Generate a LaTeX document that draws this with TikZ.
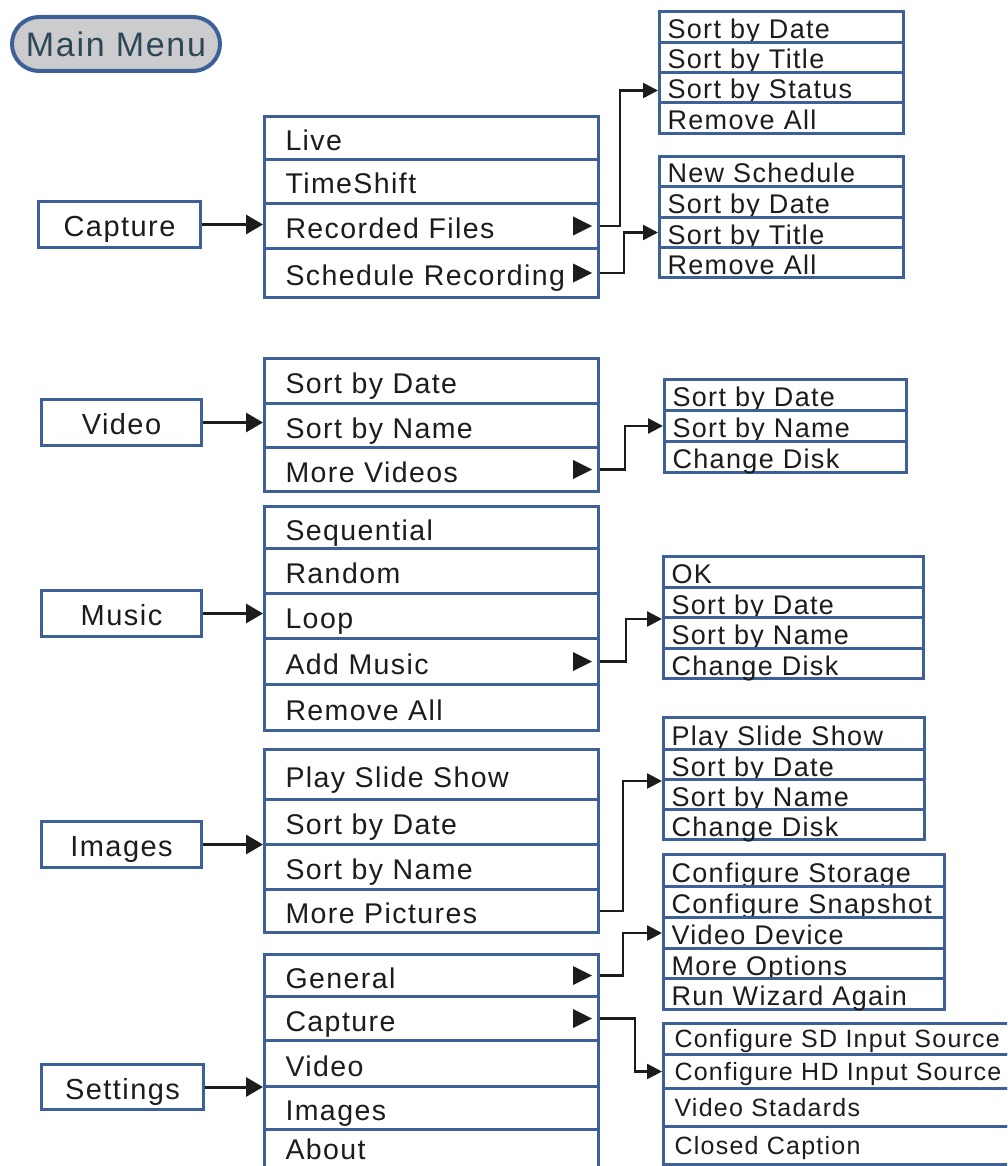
\documentclass[tikz,border=0pt]{standalone}
\usepackage{fontspec}
\setmainfont{Liberation Sans}
\newfontfamily\menufont[LetterSpace=5]{Liberation Sans}
\usetikzlibrary{arrows.meta,calc}
\definecolor{bord}{RGB}{62,96,152}
\definecolor{ink}{RGB}{28,28,28}
\definecolor{mmfill}{RGB}{204,204,206}
\definecolor{mmtext}{RGB}{44,72,86}
\newcommand\menutri[1]{\fill[ink] ([xshift=-27pt,yshift=9.5pt]#1.east) -- ++(0,19) -- ++(19,-9.5) -- cycle;}
\tikzset{
  base/.style={draw=bord, line width=3pt, fill=white, text=ink, inner ysep=0pt, anchor=north west, text depth=0pt},
  mrow/.style={base, font=\menufont\fontsize{28.5}{30}\selectfont, inner xsep=21pt, text width=292pt, align=left, minimum height=#1, text height=25pt},
  srow/.style={base, font=\menufont\fontsize{27}{29}\selectfont, inner xsep=8pt, align=left, text height=23pt},
  crow/.style={base, font=\menufont\fontsize{25}{27}\selectfont, inner xsep=11pt, align=left, text height=17pt, text width=338pt},
  lbox/.style={base, font=\menufont\fontsize{29}{31}\selectfont, inner xsep=0pt, minimum height=46pt, text height=24pt},
  mainarr/.style={draw=ink, line width=3pt, -{Triangle[length=17pt,width=19pt]}},
  conn/.style={draw=ink, line width=2.5pt, -{Triangle[length=15pt,width=15pt]}},
}
\begin{document}
\begin{tikzpicture}[x=1pt,y=-1pt]
\useasboundingbox (0,0) rectangle (1007,1166);
\clip (0,0) rectangle (1007,1166);

% Main menu
\node[draw=bord, line width=4pt, fill=mmfill, rounded corners=27pt, minimum width=208pt, minimum height=54pt, anchor=north west, inner sep=0pt, text=mmtext, font=\menufont\fontsize{34}{36}\selectfont, text height=26pt, text depth=0pt] (mm) at (10,15) {Main Menu};

% Left boxes
\node[lbox, minimum width=162pt] (capt) at (37,200) {Capture};
\node[lbox, minimum width=160pt] (vid) at (40,398) {Video};
\node[lbox, minimum width=160pt] (mus) at (40,589) {Music};
\node[lbox, minimum width=160pt] (img) at (40,820) {Images};
\node[lbox, minimum width=162pt, minimum height=45pt] (set) at (40,1063) {Settings};

% Capture menu
\node[mrow=43pt] (c1) at (263,115) {Live};
\node[mrow=44pt] (c2) at (263,158) {TimeShift};
\node[mrow=45pt] (c3) at (263,202) {Recorded Files};
\node[mrow=49pt] (c4) at (263,247) {Schedule Recording};
\menutri{c3}\menutri{c4}

% Recorded files submenu
\node[srow, text width=228pt, minimum height=31pt] (r1) at (658,10) {Sort by Date};
\node[srow, text width=228pt, minimum height=30pt] (r2) at (658,41) {Sort by Title};
\node[srow, text width=228pt, minimum height=30pt] (r3) at (658,71) {Sort by Status};
\node[srow, text width=228pt, minimum height=31pt] (r4) at (658,101) {Remove All};

% Schedule submenu
\node[srow, text width=228pt, minimum height=30pt] (s1) at (658,155) {New Schedule};
\node[srow, text width=228pt, minimum height=31pt] (s2) at (658,185) {Sort by Date};
\node[srow, text width=228pt, minimum height=30pt] (s3) at (658,216) {Sort by Title};
\node[srow, text width=228pt, minimum height=30pt] (s4) at (658,246) {Remove All};

% Video menu
\node[mrow=45pt] (v1) at (263,357) {Sort by Date};
\node[mrow=44pt] (v2) at (263,402) {Sort by Name};
\node[mrow=44pt] (v3) at (263,446) {More Videos};
\menutri{v3}

% Video submenu
\node[srow, text width=226pt, minimum height=31pt] (vs1) at (663,378) {Sort by Date};
\node[srow, text width=226pt, minimum height=31pt] (vs2) at (663,409) {Sort by Name};
\node[srow, text width=226pt, minimum height=31pt] (vs3) at (663,440) {Change Disk};

% Music menu
\node[mrow=42pt] (m1) at (263,505) {Sequential};
\node[mrow=45pt] (m2) at (263,547) {Random};
\node[mrow=45pt] (m3) at (263,592) {Loop};
\node[mrow=46pt] (m4) at (263,637) {Add Music};
\node[mrow=46pt] (m5) at (263,683) {Remove All};
\menutri{m4}

% Music submenu
\node[srow, text width=244pt, minimum height=31pt] (ms1) at (662,555) {OK};
\node[srow, text width=244pt, minimum height=30pt] (ms2) at (662,586) {Sort by Date};
\node[srow, text width=244pt, minimum height=31pt] (ms3) at (662,616) {Sort by Name};
\node[srow, text width=244pt, minimum height=30pt] (ms4) at (662,647) {Change Disk};

% Images menu
\node[mrow=50pt] (i1) at (263,748) {Play Slide Show};
\node[mrow=45pt] (i2) at (263,798) {Sort by Date};
\node[mrow=45pt] (i3) at (263,843) {Sort by Name};
\node[mrow=43pt] (i4) at (263,888) {More Pictures};

% Images submenu
\node[srow, text width=245pt, minimum height=32pt] (is1) at (662,716) {Play Slide Show};
\node[srow, text width=245pt, minimum height=30pt] (is2) at (662,748) {Sort by Date};
\node[srow, text width=245pt, minimum height=30pt] (is3) at (662,778) {Sort by Name};
\node[srow, text width=245pt, minimum height=30pt] (is4) at (662,808) {Change Disk};

% Settings menu
\node[mrow=42pt] (g1) at (263,953) {General};
\node[mrow=44pt] (g2) at (263,995) {Capture};
\node[mrow=46pt] (g3) at (263,1039) {Video};
\node[mrow=43pt] (g4) at (263,1085) {Images};
\node[mrow=41pt, text height=19pt] (g5) at (263,1128) {About};
\menutri{g1}\menutri{g2}

% Settings general submenu
\node[srow, text width=265pt, minimum height=32pt] (gs1) at (662,853) {Configure Storage};
\node[srow, text width=265pt, minimum height=31pt] (gs2) at (662,885) {Configure Snapshot};
\node[srow, text width=265pt, minimum height=31pt] (gs3) at (662,916) {Video Device};
\node[srow, text width=265pt, minimum height=30pt] (gs4) at (662,947) {More Options};
\node[srow, text width=265pt, minimum height=31pt] (gs5) at (662,977) {Run Wizard Again};

% Settings capture submenu
\node[crow, minimum height=31pt] (cs1) at (662,1022) {Configure SD Input Source};
\node[crow, minimum height=34pt] (cs2) at (662,1053) {Configure HD Input Source};
\node[crow, minimum height=38pt] (cs3) at (662,1087) {Video Stadards};
\node[crow, minimum height=38pt] (cs4) at (662,1125) {Closed Caption};

% Main arrows
\draw[mainarr] (capt.east) -- (capt.east -| c1.west);
\draw[mainarr] (vid.east) -- (vid.east -| v1.west);
\draw[mainarr] (mus.east) -- (mus.east -| m1.west);
\draw[mainarr] (img.east) -- (img.east -| i1.west);
\draw[mainarr] (set.east) -- (set.east -| g1.west);

% Submenu connectors
\draw[conn] (c3.east) -- ++(20,0) |- ([yshift=-3pt]r3.west);
\draw[conn] (c4.east) -- ++(24,0) |- (s3.west);
\draw[conn] (v3.east) -- ++(25,0) |- (vs2.west);
\draw[conn] (m4.east) -- ++(26,0) |- (ms2.south west);
\draw[conn] (i4.east) -- ++(23,0) |- (is2.south west);
\draw[conn] (g1.east) -- ++(23,0) |- (gs3.west);
\draw[conn] (g2.east) -- ++(35,0) |- (cs2.west);
\end{tikzpicture}
\end{document}
